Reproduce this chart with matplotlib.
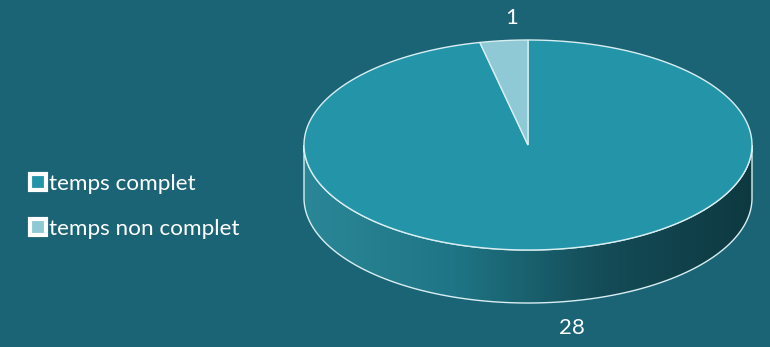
import numpy as np
import matplotlib.pyplot as plt
from matplotlib.patches import Polygon
from matplotlib.lines import Line2D
from matplotlib.colors import LinearSegmentedColormap

plt.rcParams['font.family'] = ['Lato', 'DejaVu Sans']

labels = ["temps complet", "temps non complet"]
values = [28, 1]
colors = ["#2495a9", "#8ec9d5"]

bg = "#1b6476"
cx, cy, rx, ry, depth = 528, 145, 224, 105, 53

fig = plt.figure(figsize=(7.7, 3.47), dpi=100)
fig.patch.set_facecolor(bg)
ax = fig.add_axes([0, 0, 1, 1])
ax.set_xlim(0, 770)
ax.set_ylim(347, 0)
ax.axis("off")


def pt(theta, dy=0):
    t = np.radians(theta)
    return cx + rx * np.cos(t), cy - ry * np.sin(t) + dy


# slice angles: first slice clockwise from 12 o'clock
total = sum(values)
angles = []
start = 90
for v in values:
    sweep = 360 * v / total
    angles.append((start - sweep, start))
    start -= sweep

edge = dict(edgecolor="#d8eef2", linewidth=1.0)

# side (front half, 180..360 deg) with horizontal gradient
th = np.linspace(180, 360, 200)
top = np.array([pt(t) for t in th])
bot = np.array([pt(t, depth) for t in th[::-1]])
side = Polygon(np.vstack([top, bot]), closed=True, facecolor="none", **edge, zorder=2)
ax.add_patch(side)
cmap = LinearSegmentedColormap.from_list("side", ["#2a8797", "#1f7585", "#144c57", "#0e3941"])
grad = np.linspace(0, 1, 256).reshape(1, -1)
im = ax.imshow(grad, cmap=cmap, extent=[cx - rx, cx + rx, cy + ry + depth, cy - 10],
               aspect="auto", zorder=1)
im.set_clip_path(side)
ax.set_xlim(0, 770)
ax.set_ylim(347, 0)

# top faces
for (a0, a1), c in zip(angles, colors):
    th = np.linspace(a0, a1, max(int(abs(a1 - a0)), 4))
    pts = [(cx, cy)] + [pt(t) for t in th]
    ax.add_patch(Polygon(pts, closed=True, facecolor=c, **edge, zorder=3))

# data labels
(a0, a1) = angles[1]
mx, _ = pt((a0 + a1) / 2)
ax.text(mx + 8, 18, str(values[1]), color="white", fontsize=16, ha="center", va="center")
(a0, a1) = angles[0]
mid = (a0 + a1) / 2
mx, _ = pt(mid)
ax.text(mx + 20, 328, str(values[0]), color="white", fontsize=16, ha="center", va="center")

handles = [Line2D([], [], linestyle="none", marker="s", markersize=11,
                  markerfacecolor=c, markeredgecolor="white", markeredgewidth=3)
           for c in colors]
leg = ax.legend(handles, labels, loc="upper left", bbox_to_anchor=(0.027, 0.525),
                frameon=False, fontsize=16.2, labelcolor="white", handlelength=0.7,
                handletextpad=0.15, labelspacing=1.1, borderaxespad=0)

fig.savefig("out.png", dpi=100, facecolor=bg)
